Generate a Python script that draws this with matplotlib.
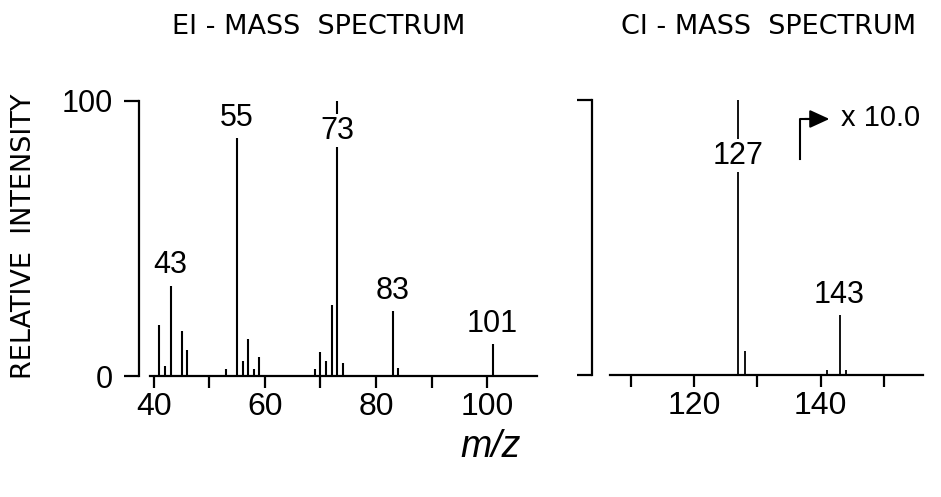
import matplotlib.pyplot as plt
import matplotlib.ticker as mticker

plt.rcParams["font.family"] = ["Liberation Sans", "DejaVu Sans"]

# EI spectrum (m/z, relative intensity)
ei_mz = [41, 42, 43, 45, 46, 53, 55, 56, 57, 58, 59, 69, 70, 71, 72, 73, 74, 83, 84, 101]
ei_int = [18.5, 3.6, 32.8, 16.5, 9.5, 2.7, 86.4, 5.4, 13.6, 2.7, 6.8,
          2.7, 8.7, 5.6, 25.7, 100, 4.6, 23.6, 2.9, 11.5]
ei_labels = [43, 55, 73, 83, 101]

# CI spectrum
ci_mz = [127, 128, 141, 143, 144]
ci_int = [100, 8.8, 1.8, 21.7, 1.8]
ci_labels = [127, 143]

ei_xticks = [40, 60, 80, 100]
ei_minor = [50, 70, 90]
ci_xticks = [120, 140]
ci_minor = [110, 130, 150]

W, H = 941, 497
fig = plt.figure(figsize=(W / 100, H / 100), dpi=100)


def axes_px(x0, x1, y_top, y_bot):
    return fig.add_axes([x0 / W, 1 - y_bot / H, (x1 - x0) / W, (y_bot - y_top) / H])


ax1 = axes_px(150, 537, 101, 376)
ax2 = axes_px(610, 923, 100, 375)


def style(ax, xlim, major, minor, spine_off):
    ax.set_xlim(*xlim)
    ax.set_ylim(0, 100)
    for s in ("top", "right"):
        ax.spines[s].set_visible(False)
    ax.spines["left"].set_position(("outward", spine_off))
    ax.spines["left"].set_bounds(0, 100)
    ax.spines["left"].set_linewidth(1.6)
    ax.spines["bottom"].set_linewidth(1.6)
    ax.set_yticks([0, 100])
    ax.xaxis.set_major_locator(mticker.FixedLocator(major))
    ax.xaxis.set_minor_locator(mticker.FixedLocator(minor))
    ax.tick_params(axis="x", which="both", direction="out", length=8.5, width=1.6,
                   labelsize=23, pad=3)
    ax.tick_params(axis="y", direction="out", length=11, width=1.6, labelsize=22, pad=8)
    ax.patch.set_visible(False)


style(ax1, (39.3, 109), ei_xticks, ei_minor, 8)
style(ax2, (106.7, 156.2), ci_xticks, ci_minor, 13)
ax2.set_yticklabels([])

ax1.vlines(ei_mz, 0, ei_int, color="black", lw=1.5, clip_on=False)
ax2.vlines(ci_mz, 0, ci_int, color="black", lw=1.3, clip_on=False)


def label_peaks(ax, mz, inten, labels, base_y):
    for m in labels:
        v = inten[mz.index(m)]
        if v >= 100:
            # base peak: label sits on the line, which is broken around it
            ax.text(m, base_y, str(m), ha="center", va="center", fontsize=22,
                    bbox=dict(facecolor="white", edgecolor="none", pad=1))
        else:
            ax.annotate(str(m), (m, v), xytext=(0, 4), textcoords="offset points",
                        ha="center", va="bottom", fontsize=22)


label_peaks(ax1, ei_mz, ei_int, ei_labels, 89.2)
label_peaks(ax2, ci_mz, ci_int, ci_labels, 79.7)

# x 10.0 marker
ax2.plot([136.7, 136.7, 138.0], [78.6, 93.1, 93.1], color="black", lw=1.5)
ax2.annotate("", xy=(141.4, 93.1), xytext=(137.5, 93.1),
             arrowprops=dict(arrowstyle="-|>,head_length=1.2,head_width=0.55",
                             color="black", lw=1.5, shrinkA=0, shrinkB=0))
ax2.text(143.3, 93.4, "x 10.0", ha="left", va="center", fontsize=21)

title_font = ["DejaVu Sans"]
fig.text(319 / W, 1 - 27 / H, "EI - MASS  SPECTRUM", ha="center", va="center",
         fontsize=19.5, family=title_font)
fig.text(769 / W, 1 - 27 / H, "CI - MASS  SPECTRUM", ha="center", va="center",
         fontsize=19.5, family=title_font)
fig.text(24 / W, 1 - 236 / H, "RELATIVE  INTENSITY", ha="center", va="center",
         rotation=90, fontsize=19.5, family=title_font)
fig.text(491 / W, 1 - 457 / H, "m/z", ha="center", va="baseline", fontsize=27, style="italic")

fig.savefig("out.png", dpi=100)
